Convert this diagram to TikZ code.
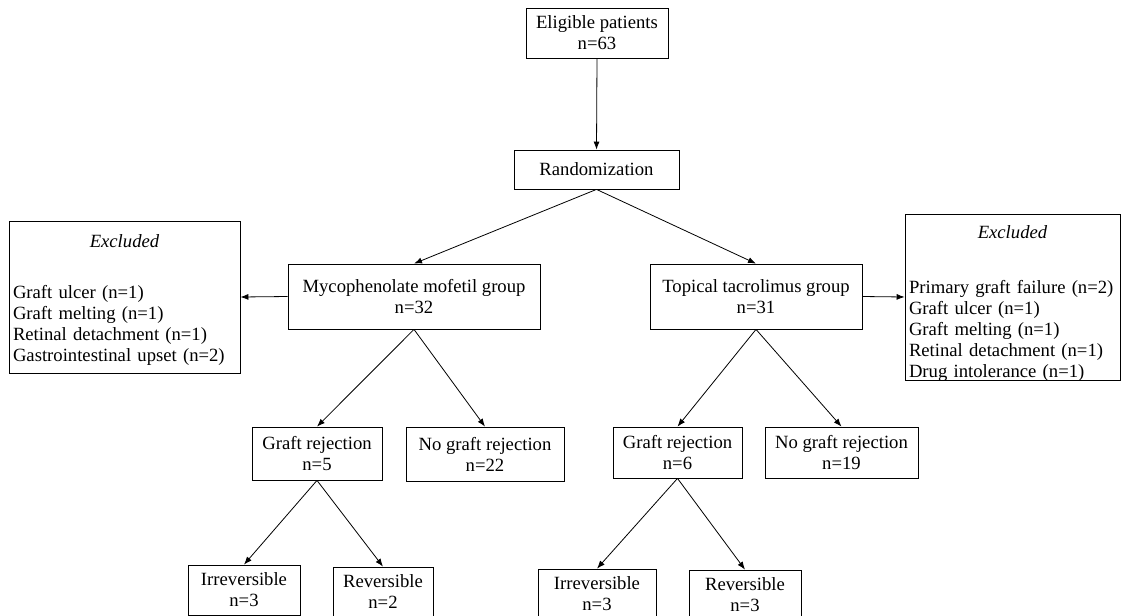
\documentclass[tikz,border=0pt]{standalone}
\usepackage{fontspec}
\setmainfont{Liberation Serif}
\usetikzlibrary{arrows.meta}
\tikzset{
  flowbox/.style={draw, line width=0.6pt, inner sep=0pt, align=center,
    font=\fontsize{14pt}{15.75pt}\selectfont},
  exbox/.style={flowbox, align=left, inner xsep=3pt},
  arr/.style={line width=0.6pt, -{Latex[length=6pt,width=4.5pt]}}
}
\begin{document}
\begin{tikzpicture}[x=0.75pt,y=0.75pt,yscale=-1,xscale=1]
				\useasboundingbox (0,0) rectangle (1121,615);
				
				% Text Node
				\node [flowbox, minimum width=106.5pt, minimum height=37.5pt] (elig) at (597,33) {Eligible patients\\n=63};
				% Text Node
				\node [flowbox, minimum width=123.75pt, minimum height=29.25pt] (rand) at (596.5,169.5) {Randomization};
				% Text Node
				\node [flowbox, minimum width=189pt, minimum height=48.75pt] (mmf) at (414,296.5) {Mycophenolate mofetil group\\n=32};
				% Text Node
				\node [flowbox, minimum width=159pt, minimum height=48.75pt] (tacro) at (756,296.5) {Topical tacrolimus group\\n=31};
				% Text Node
				\node [exbox, text width=167.25pt, text height=19.5pt, text depth=94.5pt] (exclL) at (124.5,297) {\makebox[\hsize]{\textit{Excluded}}\\[22.5pt]Graft ulcer (n=1)\\Graft melting (n=1)\\Retinal detachment (n=1)\\Gastrointestinal upset (n=2)};
				% Text Node
				\node [exbox, text width=155.25pt, text height=18pt, text depth=106.5pt] (exclR) at (1012.5,297) {\makebox[\hsize]{\textit{Excluded}}\\[25.5pt]Primary graft failure (n=2)\\Graft ulcer (n=1)\\Graft melting (n=1)\\Retinal detachment (n=1)\\Drug intolerance (n=1)};
				
				% Text Node
				\node [flowbox, minimum width=97.5pt, minimum height=39.75pt] (rejL) at (317,453.5) {Graft rejection\\n=5};
				% Text Node
				\node [flowbox, minimum width=118.5pt, minimum height=40.5pt] (norejL) at (485,454) {No graft rejection\\n=22};
				% Text Node
				\node [flowbox, minimum width=96.75pt, minimum height=38.25pt] (rejR) at (677.5,452.5) {Graft rejection\\n=6};
				% Text Node
				\node [flowbox, minimum width=114.75pt, minimum height=38.25pt] (norejR) at (841.5,452.5) {No graft rejection\\n=19};
				
				% Text Node
				\node [flowbox, minimum width=84pt, minimum height=37.5pt] (irrevL) at (244,590) {Irreversible\\n=3};
				% Text Node
				\node [flowbox, minimum width=75pt, minimum height=37.5pt] (revL) at (383,592) {Reversible\\n=2};
				% Text Node
				\node [flowbox, minimum width=88.5pt, minimum height=37.5pt] (irrevR) at (597,594) {Irreversible\\n=3};
				% Text Node
				\node [flowbox, minimum width=84pt, minimum height=37.5pt] (revR) at (745,595) {Reversible\\n=3};
				
				%Straight Lines
				\draw [arr] (elig.south) -- (rand.north);
				\draw [arr] (rand.south) -- (mmf.north);
				\draw [arr] (rand.south) -- (tacro.north);
				\draw [arr] (mmf.west) -- (exclL.east);
				\draw [arr] (tacro.east) -- (exclR.west);
				%Straight Lines
				\draw [arr] (mmf.south) -- (rejL.north);
				\draw [arr] (mmf.south) -- (norejL.north);
				\draw [arr] (tacro.south) -- (rejR.north);
				\draw [arr] (tacro.south) -- (norejR.north);
				%Straight Lines
				\draw [arr] (rejL.south) -- (irrevL.north);
				\draw [arr] (rejL.south) -- (revL.north);
				\draw [arr] (rejR.south) -- (irrevR.north);
				\draw [arr] (rejR.south) -- (revR.north);
			\end{tikzpicture}
\end{document}
